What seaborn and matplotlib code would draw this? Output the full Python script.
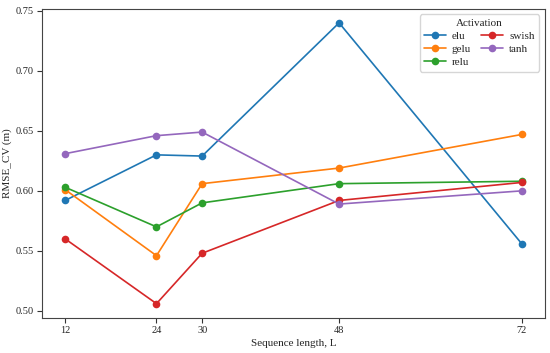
import matplotlib
matplotlib.use("Agg")
import matplotlib.pyplot as plt
import seaborn as sns
import pandas as pd

seq_len = [12, 24, 30, 48, 72]
elu = [0.592, 0.630, 0.629, 0.740, 0.556]
gelu = [0.601, 0.546, 0.606, 0.619, 0.647]
relu = [0.603, 0.570, 0.590, 0.606, 0.608]
swish = [0.560, 0.506, 0.548, 0.592, 0.607]
tanh = [0.631, 0.646, 0.649, 0.589, 0.600]
activations = ["elu", "gelu", "relu", "swish", "tanh"]
series = [elu, gelu, relu, swish, tanh]
yticks = [0.50, 0.55, 0.60, 0.65, 0.70, 0.75]

rows = []
for name, vals in zip(activations, series):
    for x, v in zip(seq_len, vals):
        rows.append({"L": x, "RMSE": v, "Activation": name})
df = pd.DataFrame(rows)

sns.set_style("ticks")
plt.rcParams["font.family"] = ["Liberation Serif", "DejaVu Serif"]

fig, ax = plt.subplots(figsize=(5.5, 3.53), dpi=100)
palette = ["#1f77b4", "#ff7f0e", "#2ca02c", "#d62728", "#9467bd"]
sns.lineplot(data=df, x="L", y="RMSE", hue="Activation", hue_order=activations,
             palette=palette, marker="o", markersize=5.5, markeredgewidth=0,
             linewidth=1.2, ax=ax)

ax.set_xticks(seq_len)
ax.set_xticklabels([str(s) for s in seq_len])
ax.set_yticks(yticks)
ax.set_yticklabels([f"{v:.2f}" for v in yticks])
ax.tick_params(labelsize=7.5, length=3.5, width=0.8, color="#333333", pad=2.5)
ax.set_xlabel("Sequence length, L", fontsize=8, labelpad=3)
ax.set_ylabel("RMSE_CV (m)", fontsize=8)
ax.yaxis.set_label_coords(-0.060, 0.5)
for s in ax.spines.values():
    s.set_visible(True)
    s.set_color("#444444")
    s.set_linewidth(0.8)

leg = ax.legend(title="Activation", ncol=2, loc="upper right", fontsize=8,
                title_fontsize=8, frameon=True, columnspacing=0.9,
                handlelength=2, handletextpad=0.5, borderpad=0.4,
                labelspacing=0.3)
leg.get_frame().set_edgecolor("#cccccc")

fig.subplots_adjust(left=0.077, right=0.99, top=0.975, bottom=0.1)
fig.savefig("out.png", dpi=100)
